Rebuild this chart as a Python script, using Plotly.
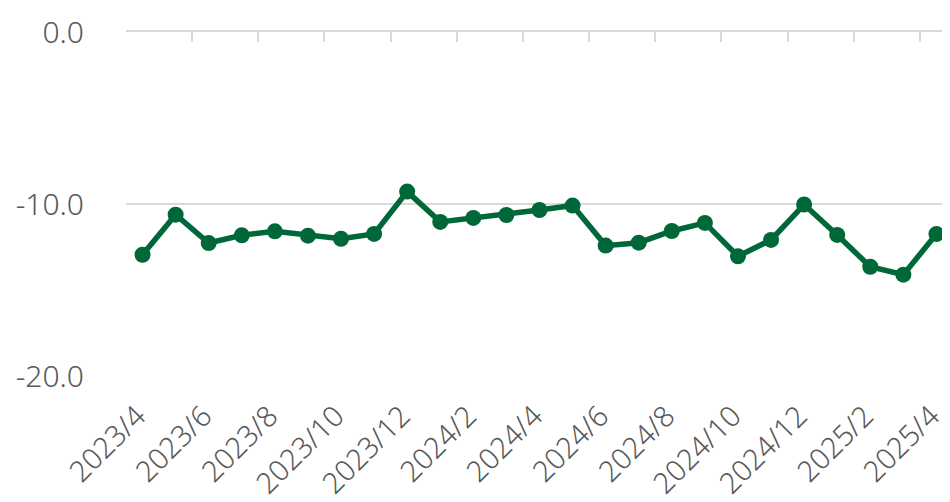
import plotly.graph_objects as go

months = ["2023/4", "2023/5", "2023/6", "2023/7", "2023/8", "2023/9", "2023/10",
          "2023/11", "2023/12", "2024/1", "2024/2", "2024/3", "2024/4", "2024/5",
          "2024/6", "2024/7", "2024/8", "2024/9", "2024/10", "2024/11", "2024/12",
          "2025/1", "2025/2", "2025/3", "2025/4"]
values = [-12.95, -10.62, -12.27, -11.82, -11.59, -11.84, -12.02, -11.74, -9.28,
          -11.04, -10.81, -10.64, -10.35, -10.09, -12.42, -12.25, -11.57, -11.10,
          -13.04, -12.09, -10.03, -11.80, -13.65, -14.11, -11.74]
y_ticks = [0, -10, -20]
y_tick_labels = ["0.0", "-10.0", "-20.0"]

idx = list(range(len(months)))
label_idx = idx[::2]
# a trailing no-break space nudges each rotated label back along its baseline
label_text = [m + "\u00a0" for m in months[::2]]
boundaries = [i - 0.5 for i in idx[::2]]

GREEN = "#006838"
GRID = "#D9D9D9"
TXT = "#595959"
FONT = "Noto Sans"

fig = go.Figure()
fig.add_trace(go.Scatter(
    x=idx, y=values, mode="lines+markers",
    line=dict(color=GREEN, width=5.5),
    marker=dict(color=GREEN, size=16),
    showlegend=False, hoverinfo="skip", cliponaxis=False,
))
fig.add_trace(go.Scatter(x=[], y=[], xaxis="x2", showlegend=False, hoverinfo="skip"))

# the page body has an 8px margin, so the figure is shifted by 8px
fig.update_layout(
    width=942, height=494,
    margin=dict(l=118, r=0, t=24, b=126),
    paper_bgcolor="white", plot_bgcolor="white",
    font=dict(family=FONT, color=TXT, size=29, weight=300),
    xaxis=dict(
        range=[-0.5, 24.41], tickmode="array", tickvals=label_idx, ticktext=label_text,
        tickangle=-45, ticks="", showgrid=False, zeroline=False, showline=False,
        tickfont=dict(family=FONT, size=29, color=TXT, weight=300), ticklabelstandoff=11,
        automargin=False, ticklabeloverflow="allow",
    ),
    xaxis2=dict(
        overlaying="x", matches="x", side="top", tickmode="array", tickvals=boundaries,
        ticks="inside", ticklen=10, tickwidth=2, tickcolor=GRID,
        showticklabels=False, showgrid=False, zeroline=False,
        showline=True, linecolor=GRID, linewidth=2, automargin=False,
    ),
    yaxis=dict(
        range=[-20, 0], tickmode="array", tickvals=y_ticks, ticktext=y_tick_labels,
        showgrid=True, gridcolor=GRID, gridwidth=2, zeroline=False, showline=False,
        ticks="", tickfont=dict(family=FONT, size=30, color=TXT, weight=300),
        ticklabelstandoff=41, automargin=False, ticklabeloverflow="allow",
    ),
)

fig.write_html("out.html")
